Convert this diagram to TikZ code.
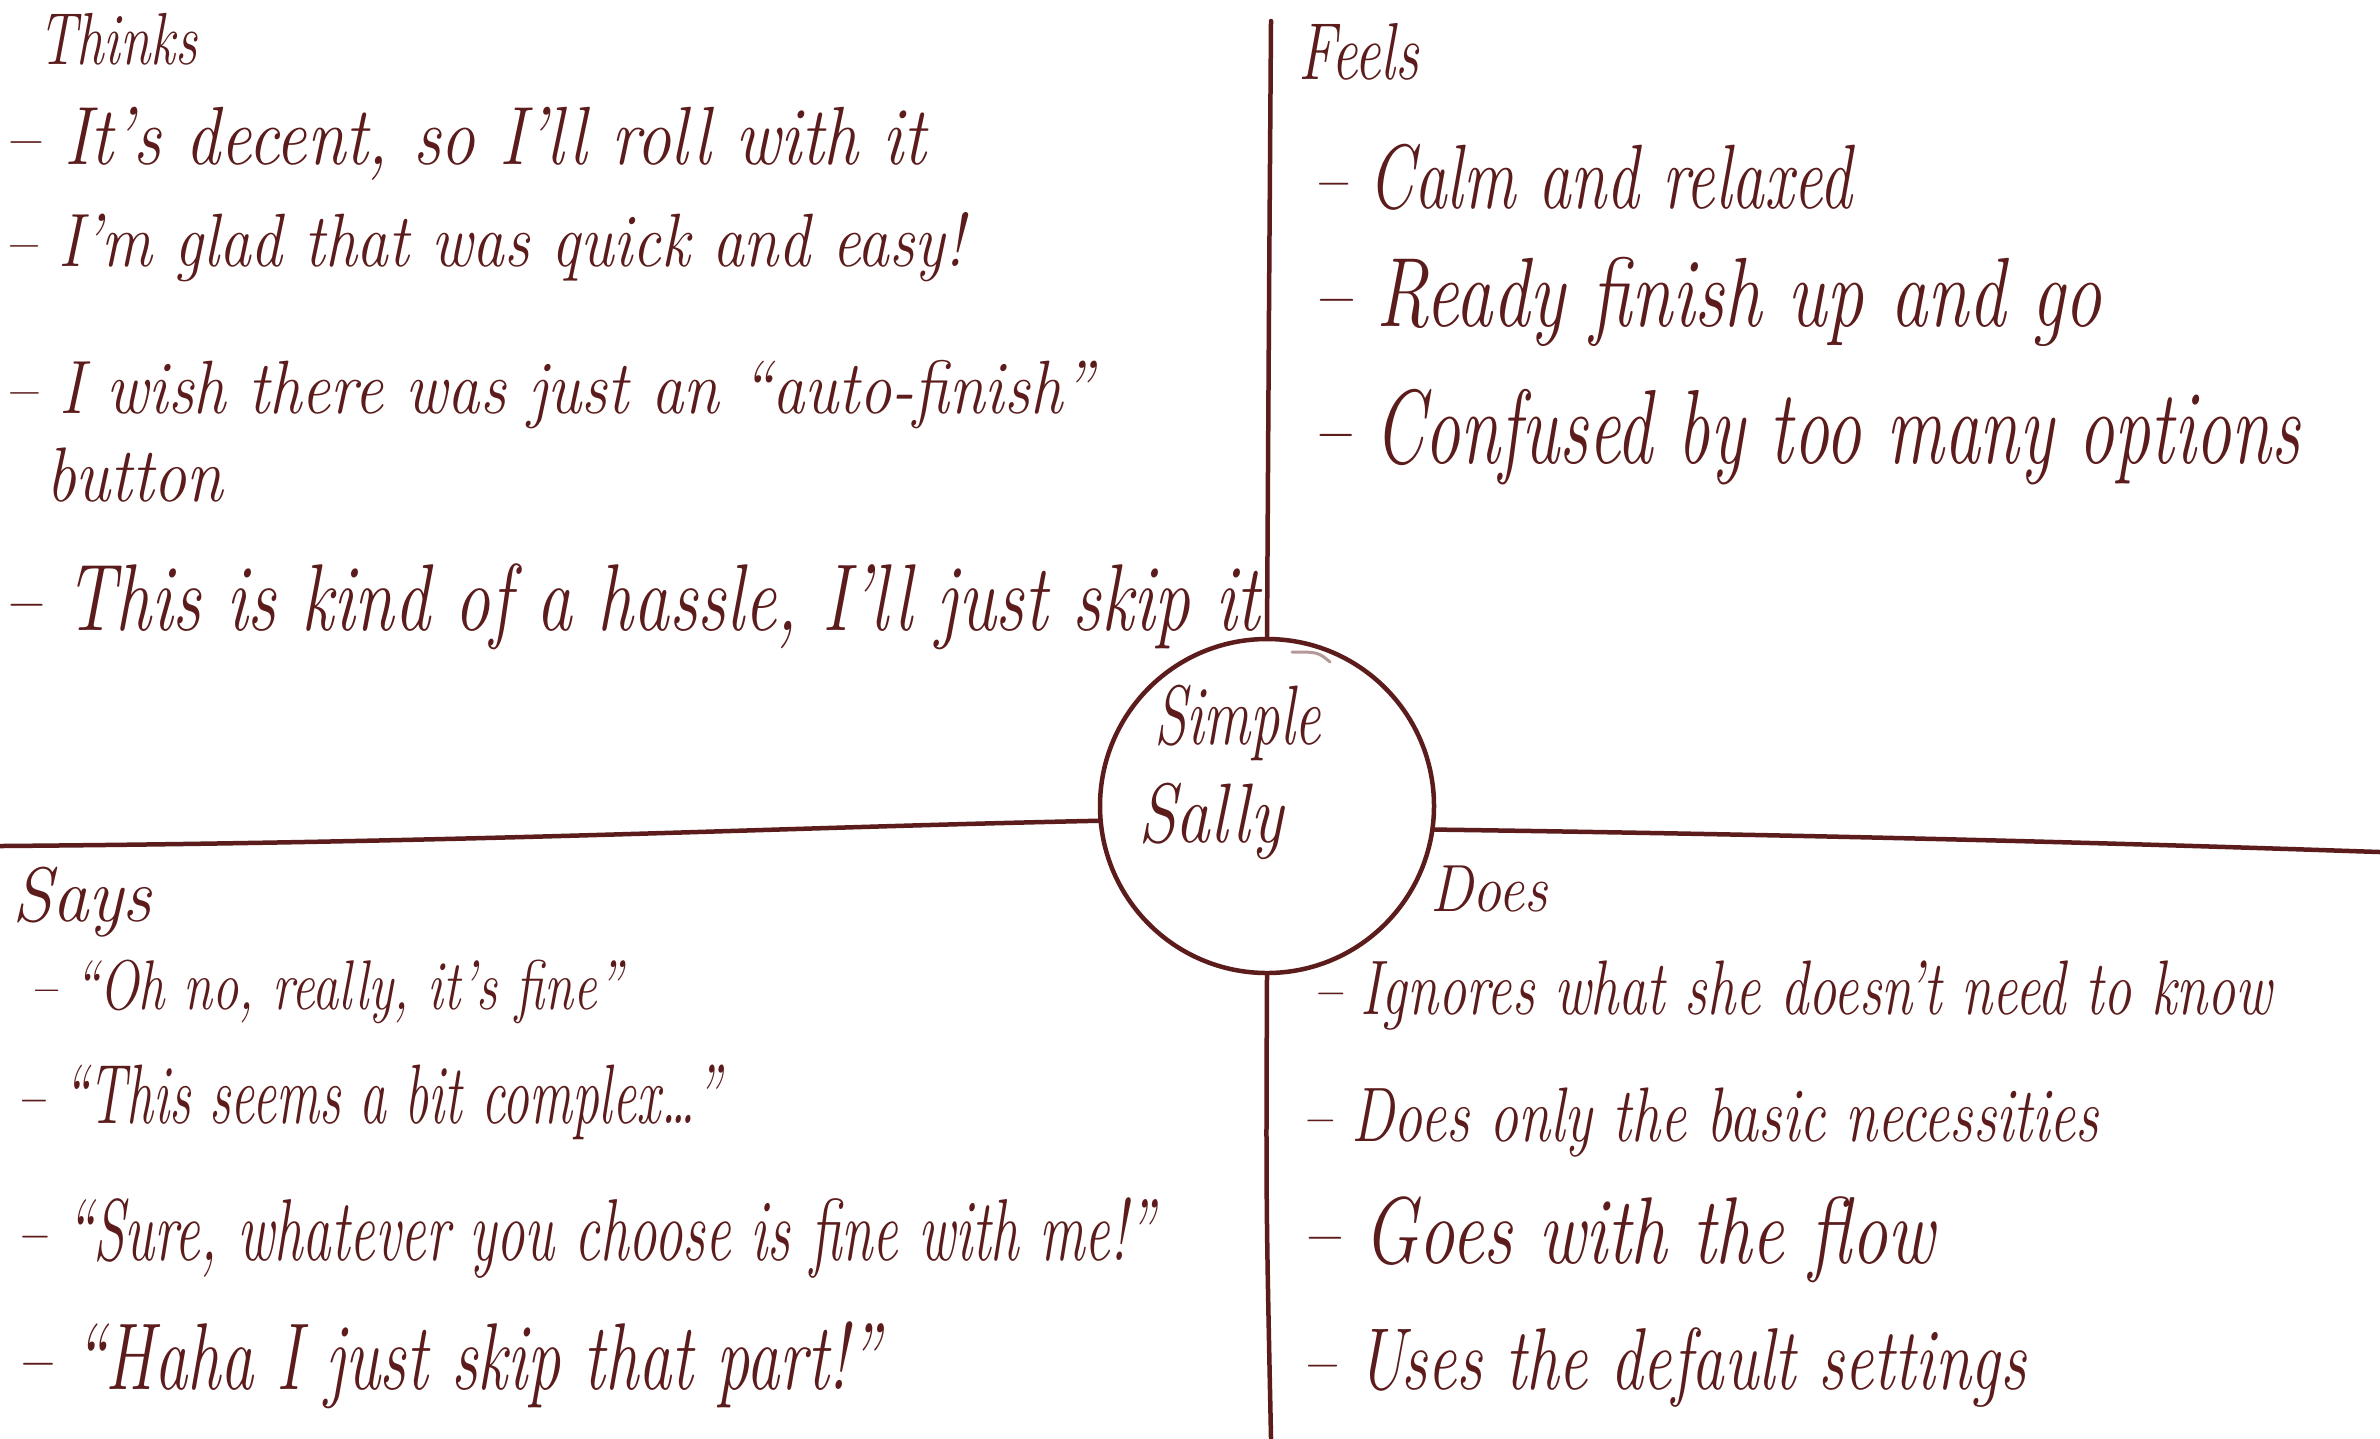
\documentclass[tikz,border=0pt]{standalone}
\usepackage{fontspec}
\usepackage{graphicx}
\definecolor{ink}{RGB}{92,28,28}
\tikzset{
  x=0.1mm, y=-0.1mm,
  ink line/.style={draw=ink, line width=0.45mm, line cap=round},
  hand/.style={anchor=base west, inner sep=0pt, outer sep=0pt, text=ink, font=\itshape},
  face/.style={draw=ink, line width=0.45mm, circle, minimum size=33.4mm, inner sep=0pt},
}
\newcommand\hw[3]{\resizebox{#1mm}{\height}{\fontsize{#2}{#2}\selectfont #3}}
\begin{document}
\begin{tikzpicture}
\fill[white] (0,0) rectangle (2380,1438);
\useasboundingbox (0,0) rectangle (2380,1438);

% centre circle
\node[face] (sally) at (1267,806) {};
\node[hand] (c1) at (1154,744) {\hw{16.7}{24}{Simple}};
\node[hand] (c2) at (1138,842) {\hw{14.5}{24}{Sally}};

% dividing lines
\coordinate (topend) at (1271,21);
\coordinate (botend) at (1271,1438);
\coordinate (leftend) at (0,846);
\coordinate (rightend) at (2380,852);
\draw[ink line] (topend) .. controls (1269,300) .. (sally.north);
\draw[ink line] (sally.south) .. controls (1266,1200) .. (botend);
\draw[ink line] (leftend) .. controls (500,842) and (760,828) .. (sally.185);
\draw[ink line] (sally.352) .. controls (1900,836) and (2200,846) .. (rightend);
\draw[ink, line width=0.3mm, opacity=0.45, line cap=round] (1292,652) .. controls (1318,652) .. (1330,662);

% Thinks
\node[hand] (t0) at (38,64) {\hw{15.9}{21}{Thinks}};
\node[hand] (t1) at (5,164) {\hw{92.1}{23.5}{-- It's decent, so I'll roll with it}};
\node[hand] (t2) at (5,266) {\hw{95.9}{21.5}{-- I'm glad that was quick and easy!}};
\node[hand] (t3) at (5,413) {\hw{108.8}{21.5}{-- I wish there was just an ``auto-finish''}};
\node[hand] (t3b) at (46,501) {\hw{17.7}{22}{button}};
\node[hand] (t4) at (5,630) {\hw{125.5}{27}{-- This is kind of a hassle, I'll just skip it}};

% Feels
\node[hand] (f0) at (1298,79) {\hw{12.1}{23}{Feels}};
\node[hand] (f1) at (1313,208) {\hw{53.9}{26}{-- Calm and relaxed}};
\node[hand] (f2) at (1313,326) {\hw{78.9}{28}{-- Ready finish up and go}};
\node[hand] (f3) at (1313,463) {\hw{98.7}{30}{-- Confused by too many options}};

% Says
\node[hand] (s0) at (12,921) {\hw{14.0}{22}{Says}};
\node[hand] (s1) at (30,1009) {\hw{59.2}{20}{-- ``Oh no, really, it's fine''}};
\node[hand] (s2) at (18,1123) {\hw{70.3}{24}{-- ``This seems a bit complex\ldots''}};
\node[hand] (s3) at (18,1260) {\hw{113.6}{25}{-- ``Sure, whatever you choose is fine with me!''}};
\node[hand] (s4) at (18,1389) {\hw{86.2}{27}{-- ``Haha I just skip that part!''}};

% Does
\node[hand] (d0) at (1430,911) {\hw{11.8}{19}{Does}};
\node[hand] (d1) at (1313,1014) {\hw{95.9}{22}{-- Ignores what she doesn't need to know}};
\node[hand] (d2) at (1302,1141) {\hw{79.7}{22}{-- Does only the basic necessities}};
\node[hand] (d3) at (1302,1263) {\hw{63.3}{27}{-- Goes with the flow}};
\node[hand] (d4) at (1302,1389) {\hw{72.4}{25}{-- Uses the default settings}};
\end{tikzpicture}
\end{document}
